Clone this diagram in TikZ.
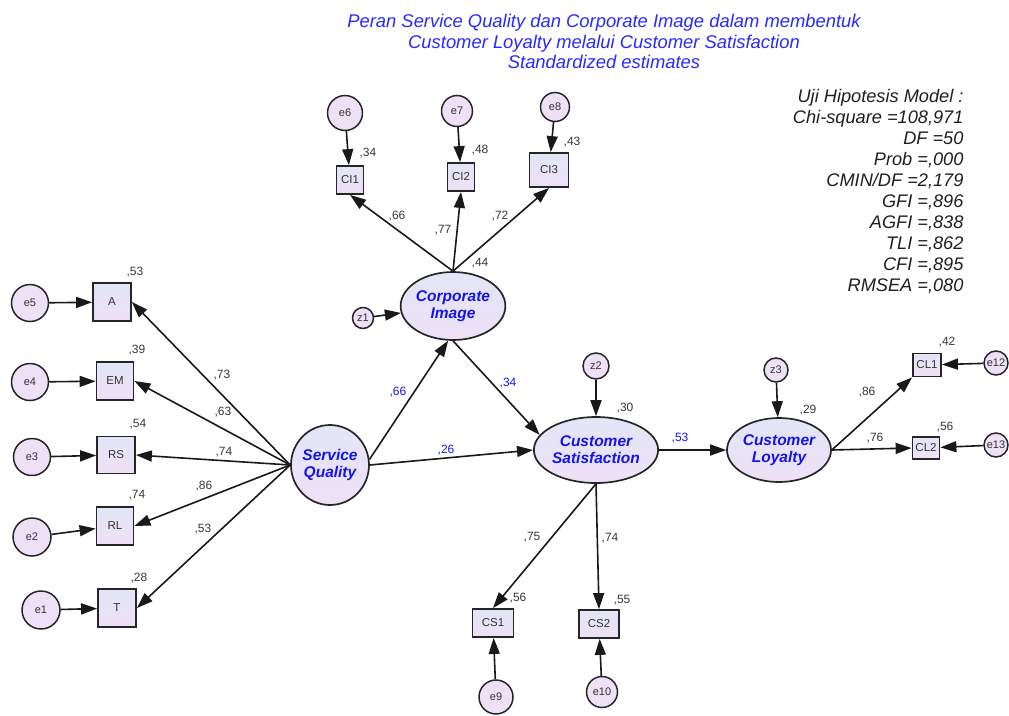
\documentclass[tikz,border=0pt]{standalone}
\usepackage{fontspec}
\setmainfont{Liberation Sans}
\usetikzlibrary{shapes.geometric,arrows.meta}
\definecolor{ltpurple}{RGB}{238,224,246}
\definecolor{ltblue}{RGB}{226,230,246}
\definecolor{latblue}{RGB}{20,20,235}
\definecolor{titleblue}{RGB}{40,40,255}
\definecolor{estgray}{RGB}{55,55,55}

\begin{document}
\begin{tikzpicture}[x=1pt, y=-1pt,
    >={Triangle[length=16pt,width=11pt]},
    obs/.style={draw=black!85, line width=1.8pt, top color=ltblue, bottom color=ltpurple,
      inner sep=0pt, font=\fontsize{11.5}{13}\selectfont, text=black!80},
    err/.style={circle, draw=black!85, line width=1.5pt, fill=ltpurple, inner sep=0pt,
      font=\fontsize{11}{13}\selectfont, text=black!80},
    lat/.style={ellipse, draw=black!85, line width=1.7pt, top color=ltblue, bottom color=ltpurple,
      inner sep=0pt, align=center, text=latblue, font=\fontsize{15.5}{17}\selectfont\bfseries\itshape},
    est/.style={font=\fontsize{12}{14}\selectfont, text=estgray, inner sep=0pt},
    estb/.style={est, text=latblue},
    arr/.style={->, line width=1.6pt, black!90}]
        \useasboundingbox (0,0) rectangle (1009,715);
        \node[anchor=north, align=center, text=titleblue, font=\fontsize{18.4}{20.5}\selectfont\itshape] (title) at (604,11)
        {Peran Service Quality dan Corporate Image dalam membentuk\\Customer Loyalty melalui Customer Satisfaction\\Standardized estimates};
        \node[anchor=north east, align=right, text=black!88, font=\fontsize{18.2}{21}\selectfont\itshape] (fit) at (967,86)
        {Uji Hipotesis Model :\\Chi-square =108,971\\DF =50\\Prob =,000\\CMIN/DF =2,179\\GFI =,896\\AGFI =,838\\TLI =,862\\CFI =,895\\RMSEA =,080};

        \node[lat, minimum width=76pt, minimum height=80pt] (SQ) at (330,465) {Service\\Quality};
        \node[lat, minimum width=90pt, minimum height=68pt] (CI) at (453,306) {Corporate\\Image};
        \node[lat, minimum width=113pt, minimum height=66pt] (CS) at (596,450) {Customer\\Satisfaction};
        \node[lat, minimum width=104pt, minimum height=64pt] (CL) at (779,450) {Customer\\Loyalty};

        \node[obs, minimum width=38pt, minimum height=38pt] (A) at (112,302) {A};
        \node[obs, minimum width=37pt, minimum height=38pt] (EM) at (115,381) {EM};
        \node[obs, minimum width=38pt, minimum height=37pt] (RS) at (116,455) {RS};
        \node[obs, minimum width=37pt, minimum height=38pt] (RL) at (115,526) {RL};
        \node[obs, minimum width=38pt, minimum height=38pt] (T) at (117,608) {T};
        \node[obs, minimum width=27pt, minimum height=28pt] (CI1) at (350,180) {CI1};
        \node[obs, minimum width=27pt, minimum height=28pt] (CI2) at (461,177) {CI2};
        \node[obs, minimum width=39pt, minimum height=34pt] (CI3) at (549,170) {CI3};
        \node[obs, minimum width=41pt, minimum height=28pt] (CS1) at (493,623) {CS1};
        \node[obs, minimum width=40pt, minimum height=28pt] (CS2) at (599,624) {CS2};
        \node[obs, minimum width=28pt, minimum height=23pt] (CL1) at (927,365) {CL1};
        \node[obs, minimum width=27pt, minimum height=22pt] (CL2) at (926,448) {CL2};

        \node[err, minimum size=37pt] (e5) at (30,303) {e5};
        \node[err, minimum size=37pt] (e4) at (30,382) {e4};
        \node[err, minimum size=37pt] (e3) at (32,457) {e3};
        \node[err, minimum size=38pt] (e2) at (32,537) {e2};
        \node[err, minimum size=38pt] (e1) at (41,610) {e1};
        \node[err, minimum size=35pt] (e6) at (345,113) {e6};
        \node[err, minimum size=31pt] (e7) at (457,111) {e7};
        \node[err, minimum size=29pt] (e8) at (555,107) {e8};
        \node[err, minimum size=34pt] (e9) at (496,697) {e9};
        \node[err, minimum size=31pt] (e10) at (602,692) {e10};
        \node[err, minimum size=24pt] (e12) at (996,363) {e12};
        \node[err, minimum size=24pt] (e13) at (996,445) {e13};
        \node[err, minimum size=21pt] (z1) at (363,318) {z1};
        \node[err, minimum size=26pt] (z2) at (596,366) {z2};
        \node[err, minimum size=24pt] (z3) at (776,370) {z3};

        \draw[arr] (e5) -- (A);
        \draw[arr] (e4) -- (EM);
        \draw[arr] (e3) -- (RS);
        \draw[arr] (e2) -- (RL);
        \draw[arr] (e1) -- (T);
        \draw[arr] (SQ.west) -- (A.east);
        \draw[arr] (SQ.west) -- (EM.east);
        \draw[arr] (SQ.west) -- (RS.east);
        \draw[arr] (SQ.west) -- (RL.east);
        \draw[arr] (SQ.west) -- (T.east);
        \draw[arr] (e6) -- (CI1);
        \draw[arr] (e7) -- (CI2);
        \draw[arr] (e8) -- (CI3);
        \draw[arr] (CI.north) -- (CI1.south);
        \draw[arr] (CI.north) -- (CI2.south);
        \draw[arr] (CI.north) -- (CI3.south);
        \draw[arr] (z1) -- (CI);
        \draw[arr] (SQ.8) -- (CI.262);
        \draw[arr] (CI.south) -- (CS.165);
        \draw[arr] (SQ.east) -- (CS.west);
        \draw[arr] (z2) -- (CS);
        \draw[arr] (CS.east) -- (CL.west);
        \draw[arr] (z3) -- (CL);
        \draw[arr] (CS.south) -- (CS1.north);
        \draw[arr] (CS.south) -- (CS2.north);
        \draw[arr] (e9) -- (CS1);
        \draw[arr] (e10) -- (CS2);
        \draw[arr] (CL.east) -- (CL1.south west);
        \draw[arr] (CL.east) -- (CL2.west);
        \draw[arr] (e12) -- (CL1);
        \draw[arr] (e13) -- (CL2);

        \node[est] (rA) at (135,272) {,53};
        \node[est] (rEM) at (137,350) {,39};
        \node[est] (rRS) at (138,424) {,54};
        \node[est] (rRL) at (137,495) {,74};
        \node[est] (rT) at (139,578) {,28};
        \node[est] (lA) at (222,375) {,73};
        \node[est] (lEM) at (223,412) {,63};
        \node[est] (lRS) at (224,452) {,74};
        \node[est] (lRL) at (204,486) {,86};
        \node[est] (lT) at (203,529) {,53};
        \node[est] (rCI1) at (368,153) {,34};
        \node[est] (rCI2) at (480,150) {,48};
        \node[est] (rCI3) at (572,142) {,43};
        \node[est] (lCI1) at (397,216) {,66};
        \node[est] (lCI2) at (443,230) {,77};
        \node[est] (lCI3) at (500,216) {,72};
        \node[est] (rCI) at (480,263) {,44};
        \node[estb] (bSQCI) at (398,392) {,66};
        \node[estb] (bCICS) at (508,383) {,34};
        \node[estb] (bSQCS) at (446,450) {,26};
        \node[estb] (bCSCL) at (680,438) {,53};
        \node[est] (rCS) at (625,408) {,30};
        \node[est] (lCS1) at (532,537) {,75};
        \node[est] (lCS2) at (610,538) {,74};
        \node[est] (rCS1) at (518,598) {,56};
        \node[est] (rCS2) at (622,600) {,55};
        \node[est] (rCL) at (808,410) {,29};
        \node[est] (lCL1) at (867,392) {,86};
        \node[est] (lCL2) at (875,438) {,76};
        \node[est] (rCL1) at (947,342) {,42};
        \node[est] (rCL2) at (945,427) {,56};
\end{tikzpicture}
\end{document}
